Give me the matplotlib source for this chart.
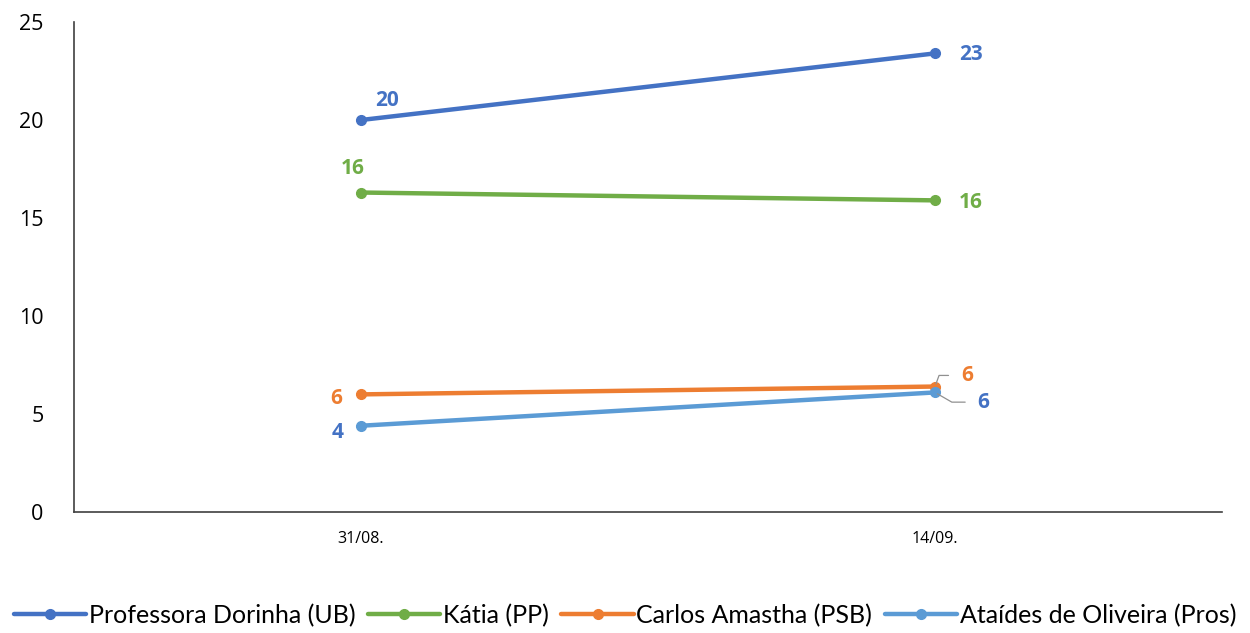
import matplotlib
matplotlib.use("Agg")
import matplotlib.pyplot as plt

categories = ["31/08.", "14/09."]
series_names = ["Professora Dorinha (UB)", "Kátia (PP)", "Carlos Amastha (PSB)", "Ataídes de Oliveira (Pros)"]
dorinha = [20.0, 23.4]
katia = [16.3, 15.9]
carlos = [6.0, 6.4]
ataides = [4.4, 6.1]
yticks = [0, 5, 10, 15, 20, 25]

series = [dorinha, katia, carlos, ataides]
line_colors = ["#4472C4", "#70AD47", "#ED7D31", "#5B9BD5"]
label_colors = ["#4472C4", "#70AD47", "#ED7D31", "#4472C4"]
# label offsets in points (style only)
offsets = [[(19, 14), (26, -1)],
           [(-6, 17), (26, -1.5)],
           [(-18, -3), (23, 8)],
           [(-17, -5), (35, -7)]]
leaders = [[False, False], [False, False], [False, True], [False, True]]

plt.rcParams['font.family'] = ['Open Sans', 'DejaVu Sans']

fig = plt.figure(figsize=(12.5, 6.33), dpi=100)
ax = fig.add_axes([0.0592, 0.1912, 0.9184, 0.774])

x = list(range(len(categories)))
for name, vals, lc, tc, offs, lds in zip(series_names, series, line_colors, label_colors, offsets, leaders):
    ax.plot(x, vals, color=lc, lw=3.2, marker='o', ms=7, label=name, solid_capstyle='round')
    for xi, v, off, ld in zip(x, vals, offs, lds):
        kw = {}
        if ld:
            kw['arrowprops'] = dict(arrowstyle='-', color='#909090', lw=0.9,
                                    shrinkA=7, shrinkB=2,
                                    connectionstyle='angle,angleA=0,angleB=%d' % (70 if off[1] > 0 else -30))
        ax.annotate(f"{v:.0f}", (xi, v), xytext=off, textcoords='offset points',
                    ha='center', va='center', color=tc, fontsize=15, fontweight='bold', **kw)

ax.set_xlim(-0.5, 1.5)
ax.set_ylim(0, 25)
ax.set_yticks(yticks)
ax.set_xticks(x)
ax.set_xticklabels(categories, fontsize=11.5)
ax.tick_params(axis='y', labelsize=15.5, length=0, pad=22)
ax.tick_params(axis='x', length=0, pad=14)
for s in ['top', 'right']:
    ax.spines[s].set_visible(False)
for s in ['left', 'bottom']:
    ax.spines[s].set_color('#404040')
    ax.spines[s].set_linewidth(1.2)

leg = fig.legend(loc='center', bbox_to_anchor=(0.5, 0.028), ncol=4, frameon=False,
                 handlelength=2.9, handletextpad=0.1, columnspacing=0.5,
                 prop={'family': ['Lato', 'DejaVu Sans'], 'size': 18})

fig.savefig("out.png", dpi=100)
